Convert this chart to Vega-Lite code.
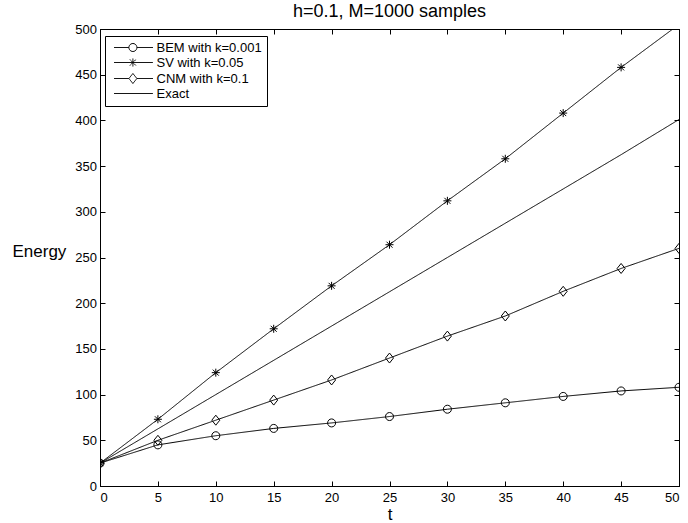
{
  "$schema": "https://vega.github.io/schema/vega-lite/v6.json",
  "width": 579,
  "height": 457,
  "autosize": {"type": "none"},
  "padding": {"left": 100, "top": 29, "right": 9, "bottom": 37},
  "background": "white",
  "title": {"text": "h=0.1, M=1000 samples", "fontSize": 18, "fontWeight": "normal", "font": "Liberation Sans", "color": "black", "baseline": "alphabetic", "offset": 7, "dy": 19, "anchor": "middle"},
  "config": {
    "view": {"stroke": "black", "strokeWidth": 1},
    "axis": {"grid": false, "domainColor": "black", "tickColor": "black", "labelColor": "black", "titleColor": "black", "labelFont": "Liberation Sans", "titleFont": "Liberation Sans", "labelFontSize": 13, "titleFontSize": 17, "titleFontWeight": "normal", "tickSize": -5},
    "legend": {"orient": "none", "legendX": 5, "legendY": 7, "padding": 5, "strokeColor": "black", "fillColor": "white", "cornerRadius": 0, "rowPadding": 1, "labelFontSize": 13, "labelFont": "Liberation Sans", "labelColor": "black", "labelOffset": 33.5, "labelLimit": 300, "symbolSize": 64, "symbolStrokeColor": "black", "symbolStrokeWidth": 1, "symbolFillColor": "transparent"}
  },
  "data": {"values": [
    {"t": 0, "E": 25, "series": "BEM with k=0.001"},
    {"t": 5, "E": 45, "series": "BEM with k=0.001"},
    {"t": 10, "E": 55, "series": "BEM with k=0.001"},
    {"t": 15, "E": 63, "series": "BEM with k=0.001"},
    {"t": 20, "E": 69, "series": "BEM with k=0.001"},
    {"t": 25, "E": 76, "series": "BEM with k=0.001"},
    {"t": 30, "E": 84, "series": "BEM with k=0.001"},
    {"t": 35, "E": 91, "series": "BEM with k=0.001"},
    {"t": 40, "E": 98, "series": "BEM with k=0.001"},
    {"t": 45, "E": 104, "series": "BEM with k=0.001"},
    {"t": 50, "E": 108, "series": "BEM with k=0.001"},
    {"t": 0, "E": 25, "series": "SV with k=0.05"},
    {"t": 5, "E": 73, "series": "SV with k=0.05"},
    {"t": 10, "E": 124, "series": "SV with k=0.05"},
    {"t": 15, "E": 172, "series": "SV with k=0.05"},
    {"t": 20, "E": 219, "series": "SV with k=0.05"},
    {"t": 25, "E": 264, "series": "SV with k=0.05"},
    {"t": 30, "E": 312, "series": "SV with k=0.05"},
    {"t": 35, "E": 358, "series": "SV with k=0.05"},
    {"t": 40, "E": 408, "series": "SV with k=0.05"},
    {"t": 45, "E": 458, "series": "SV with k=0.05"},
    {"t": 50, "E": 505, "series": "SV with k=0.05"},
    {"t": 0, "E": 25, "series": "CNM with k=0.1"},
    {"t": 5, "E": 50, "series": "CNM with k=0.1"},
    {"t": 10, "E": 72, "series": "CNM with k=0.1"},
    {"t": 15, "E": 94, "series": "CNM with k=0.1"},
    {"t": 20, "E": 116, "series": "CNM with k=0.1"},
    {"t": 25, "E": 140, "series": "CNM with k=0.1"},
    {"t": 30, "E": 164, "series": "CNM with k=0.1"},
    {"t": 35, "E": 186, "series": "CNM with k=0.1"},
    {"t": 40, "E": 213, "series": "CNM with k=0.1"},
    {"t": 45, "E": 238, "series": "CNM with k=0.1"},
    {"t": 50, "E": 260, "series": "CNM with k=0.1"},
    {"t": 0, "E": 25, "series": "Exact"},
    {"t": 5, "E": 62.5, "series": "Exact"},
    {"t": 10, "E": 100, "series": "Exact"},
    {"t": 15, "E": 137.5, "series": "Exact"},
    {"t": 20, "E": 175, "series": "Exact"},
    {"t": 25, "E": 212.5, "series": "Exact"},
    {"t": 30, "E": 250, "series": "Exact"},
    {"t": 35, "E": 287.5, "series": "Exact"},
    {"t": 40, "E": 325, "series": "Exact"},
    {"t": 45, "E": 362.5, "series": "Exact"},
    {"t": 50, "E": 401, "series": "Exact"}
  ]},
  "layer": [
    {
      "mark": {"type": "line", "color": "black", "strokeWidth": 1, "clip": true},
      "encoding": {
        "x": {"field": "t", "type": "quantitative", "scale": {"domain": [0, 50], "nice": false},
              "axis": {"orient": "bottom", "values": [0, 5, 10, 15, 20, 25, 30, 35, 40, 45, 50], "labelPadding": 10, "title": "t", "titleY": 33, "titleBaseline": "alphabetic"}},
        "y": {"field": "E", "type": "quantitative", "scale": {"domain": [0, 500], "nice": false},
              "axis": {"orient": "left", "values": [0, 50, 100, 150, 200, 250, 300, 350, 400, 450, 500], "labelPadding": 8.5, "title": "Energy", "titleAngle": 0, "titleX": -88, "titleY": 227, "titleAlign": "left", "titleBaseline": "alphabetic"}},
        "strokeDash": {"field": "series", "type": "nominal",
          "scale": {"domain": ["BEM with k=0.001", "SV with k=0.05", "CNM with k=0.1", "Exact"], "range": [[1, 0], [1, 0], [1, 0], [1, 0]]},
          "legend": {"title": null,
            "encode": {"symbols": {"update": {
              "shape": {"signal": "datum.value === 'BEM with k=0.001' ? 'M-0.6,0H3.1A1,1 0 1 1 5.1,0A1,1 0 1 1 3.1,0M5.1,0H9.1' : datum.value === 'SV with k=0.05' ? 'M-0.6,0H9.1M4.1,-1V1M3.35,-0.75L4.85,0.75M3.35,0.75L4.85,-0.75' : datum.value === 'CNM with k=0.1' ? 'M-0.6,0H3.1L4.1,-1.25L5.1,0L4.1,1.25L3.1,0M5.1,0H9.1' : 'M-0.6,0H9.1'"},
              "size": {"value": 64},
              "fill": {"value": "transparent"},
              "stroke": {"value": "black"}
            }}}}
        }
      }
    },
    {
      "transform": [{"filter": "datum.series === 'BEM with k=0.001'"}],
      "mark": {"type": "point", "shape": "M-1,0A1,1 0 1 1 1,0A1,1 0 1 1 -1,0Z", "filled": false, "color": "black", "strokeWidth": 1, "size": 64, "opacity": 1, "clip": true},
      "encoding": {
        "x": {"field": "t", "type": "quantitative", "scale": {"domain": [0, 50], "nice": false},
              "axis": {"orient": "top", "labels": false, "title": null, "values": [0, 5, 10, 15, 20, 25, 30, 35, 40, 45, 50]}},
        "y": {"field": "E", "type": "quantitative", "scale": {"domain": [0, 500], "nice": false},
              "axis": {"orient": "right", "labels": false, "title": null, "values": [0, 50, 100, 150, 200, 250, 300, 350, 400, 450, 500]}}
      }
    },
    {
      "transform": [{"filter": "datum.series === 'SV with k=0.05'"}],
      "mark": {"type": "point", "shape": "M0,-1V1M-1,0H1M-0.75,-0.75L0.75,0.75M-0.75,0.75L0.75,-0.75", "filled": false, "color": "black", "strokeWidth": 1, "size": 64, "opacity": 1, "clip": true},
      "encoding": {
        "x": {"field": "t", "type": "quantitative", "axis": null},
        "y": {"field": "E", "type": "quantitative", "axis": null}
      }
    },
    {
      "transform": [{"filter": "datum.series === 'CNM with k=0.1'"}],
      "mark": {"type": "point", "shape": "M0,-1.25L1,0L0,1.25L-1,0Z", "filled": false, "color": "black", "strokeWidth": 1, "size": 64, "opacity": 1, "clip": true},
      "encoding": {
        "x": {"field": "t", "type": "quantitative", "axis": null},
        "y": {"field": "E", "type": "quantitative", "axis": null}
      }
    }
  ],
  "resolve": {"axis": {"x": "independent", "y": "independent"}}
}
